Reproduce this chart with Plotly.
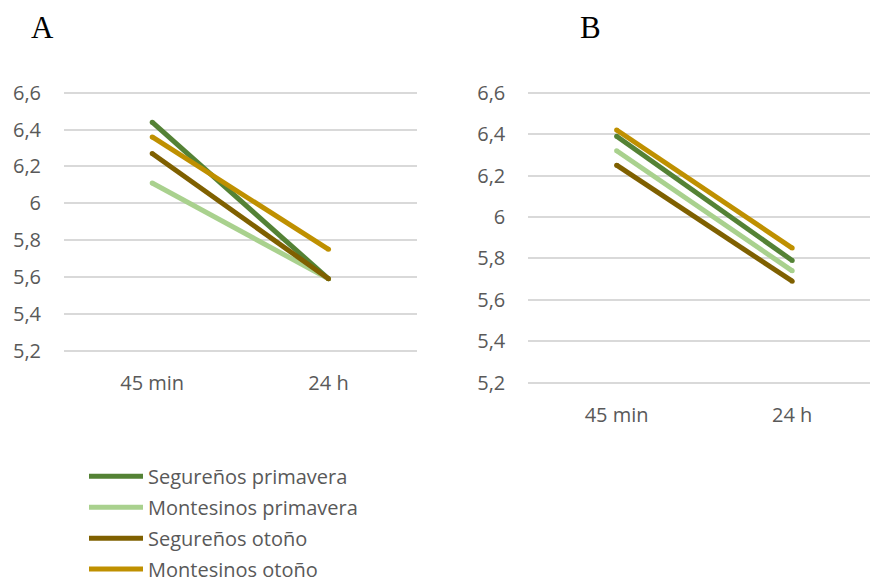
import plotly.graph_objects as go

# Sampling times (x categories)
times = ["45 min", "24 h"]

# Series names and colours
series_names = ["Segureños primavera", "Montesinos primavera", "Segureños otoño", "Montesinos otoño"]
series_colors = ["#548235", "#A9D18E", "#7F6000", "#BF9000"]

# Panel A values (pH)
a_segurenos_primavera = [6.44, 5.59]
a_montesinos_primavera = [6.11, 5.59]
a_segurenos_otono = [6.27, 5.59]
a_montesinos_otono = [6.36, 5.75]

# Panel B values (pH)
b_segurenos_primavera = [6.39, 5.79]
b_montesinos_primavera = [6.32, 5.74]
b_segurenos_otono = [6.25, 5.69]
b_montesinos_otono = [6.42, 5.85]

y_ticks = [5.2, 5.4, 5.6, 5.8, 6.0, 6.2, 6.4, 6.6]
y_tick_text = ["5,2", "5,4", "5,6", "5,8", "6", "6,2", "6,4", "6,6"]

panel_a = [a_segurenos_primavera, a_montesinos_primavera, a_segurenos_otono, a_montesinos_otono]
panel_b = [b_segurenos_primavera, b_montesinos_primavera, b_segurenos_otono, b_montesinos_otono]

W, H = 870, 583
FONT = "Open Sans"
GRAY = "#595959"
LW = 5

Y_MIN, Y_MAX = 5.2, 6.6
Y_PAD = 0.02  # keeps the 5,2 and 6,6 gridlines inside the plot area

fig = go.Figure()

# Small round markers at the ends give the lines rounded caps
for vals, name, col in zip(panel_a, series_names, series_colors):
    fig.add_trace(go.Scatter(x=[0, 1], y=vals, mode="lines+markers", name=name,
                             line=dict(color=col, width=LW),
                             marker=dict(color=col, size=LW, line=dict(width=0)),
                             xaxis="x", yaxis="y", showlegend=False, hoverinfo="name+y"))
for vals, name, col in zip(panel_b, series_names, series_colors):
    fig.add_trace(go.Scatter(x=[0, 1], y=vals, mode="lines+markers", name=name,
                             line=dict(color=col, width=LW),
                             marker=dict(color=col, size=LW, line=dict(width=0)),
                             xaxis="x2", yaxis="y2", showlegend=False, hoverinfo="name+y"))

def px_x(p):
    return p / W

def px_y(p):
    return 1 - p / H

def y_domain(top_grid_px, bottom_grid_px):
    # pixel rows of the 6,6 and 5,2 gridlines -> padded axis domain
    scale = (bottom_grid_px - top_grid_px) / (Y_MAX - Y_MIN)
    pad = Y_PAD * scale
    return [px_y(bottom_grid_px + pad), px_y(top_grid_px - pad)], pad

dom_a, pad_a = y_domain(92.7, 350.7)
dom_b, pad_b = y_domain(92.7, 382.7)

def xaxis_style(ticklen):
    return dict(tickmode="array", tickvals=[0, 1], ticktext=times,
                showgrid=False, zeroline=False, showline=False, automargin=False,
                ticks="outside", ticklen=ticklen, tickcolor="rgba(0,0,0,0)",
                tickfont=dict(family=FONT, size=20, color=GRAY), fixedrange=True)

yaxis_common = dict(range=[Y_MIN - Y_PAD, Y_MAX + Y_PAD], tickmode="array",
                    tickvals=y_ticks, ticktext=y_tick_text,
                    showgrid=True, gridcolor="#D9D9D9", gridwidth=1.5, zeroline=False,
                    showline=False, automargin=False, ticks="outside", ticklen=18,
                    tickcolor="rgba(0,0,0,0)",
                    tickfont=dict(family=FONT, size=20, color=GRAY), fixedrange=True)

fig.update_layout(
    width=W, height=H, autosize=False,
    margin=dict(l=0, r=0, t=0, b=0, pad=0),
    paper_bgcolor="white", plot_bgcolor="white",
    xaxis=dict(domain=[px_x(64), px_x(416.7)], range=[-0.5, 1.5], anchor="y",
               **xaxis_style(14 - pad_a)),
    yaxis=dict(domain=dom_a, anchor="x", **yaxis_common),
    xaxis2=dict(domain=[px_x(528.3), 1.0], range=[-0.503, 1.443], anchor="y2",
                **xaxis_style(14 - pad_b)),
    yaxis2=dict(domain=dom_b, anchor="x2", **yaxis_common),
    showlegend=False,
)

# Panel letters
fig.add_annotation(text="A", x=px_x(42.5), y=px_y(27), xref="paper", yref="paper",
                   showarrow=False, xanchor="center", yanchor="middle",
                   font=dict(family="Liberation Serif", size=31, color="black"))
fig.add_annotation(text="B", x=px_x(590.5), y=px_y(27), xref="paper", yref="paper",
                   showarrow=False, xanchor="center", yanchor="middle",
                   font=dict(family="Liberation Serif", size=31, color="black"))

# Legend drawn below panel A
legend_rows = [476.3, 507.3, 538.3, 569.0]
for name, col, ry in zip(series_names, series_colors, legend_rows):
    fig.add_shape(type="line", xref="paper", yref="paper",
                  x0=px_x(89), x1=px_x(143), y0=px_y(ry), y1=px_y(ry),
                  line=dict(color=col, width=LW))
    fig.add_annotation(text=name, x=px_x(146), y=px_y(ry), xref="paper", yref="paper",
                       showarrow=False, xanchor="left", yanchor="middle",
                       font=dict(family=FONT, size=20, color=GRAY))

fig.write_html("out.html")
